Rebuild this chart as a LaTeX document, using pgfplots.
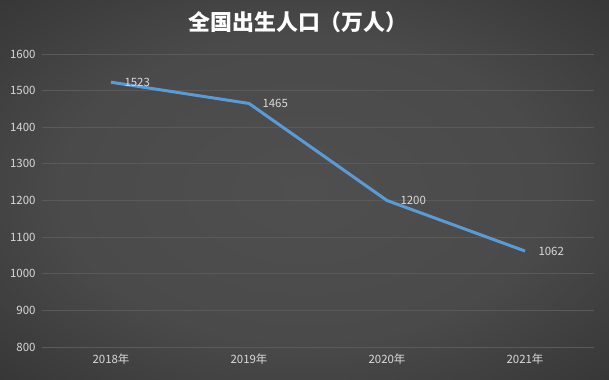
\documentclass[border=0pt]{standalone}
\usepackage{fontspec}
\setmainfont{Noto Sans CJK SC}
\usepackage{pgfplots}
\pgfplotsset{compat=1.18}
\definecolor{bgin}{HTML}{4F4F4F}
\definecolor{bgout}{HTML}{252525}
\definecolor{gridc}{HTML}{5A5A5A}
\definecolor{lbl}{HTML}{D9D9D9}
\definecolor{linec}{HTML}{5B9BD5}
\pgfdeclareradialshading{bgshade}{\pgfpoint{0bp}{0bp}}{color(0bp)=(bgin); color(20bp)=(bgin!88!bgout); color(50bp)=(bgout); color(72bp)=(bgout)}
\begin{document}
\begin{tikzpicture}[x=1bp,y=1bp]
\shade[shading=bgshade] (0,0) rectangle (609,379);
\begin{axis}[at={(42bp,32bp)}, anchor=south west, scale only axis,
  width=552bp, height=293bp,
  xmin=-0.5, xmax=3.5, ymin=800, ymax=1600,
  ytick={800,900,...,1600}, xtick={0,1,2,3},
  xticklabels={2018年,2019年,2020年,2021年},
  axis line style={draw=none}, major tick length=0pt,
  ymajorgrids, grid style={gridc, line width=0.8bp},
  tick label style={font=\fontsize{11.5}{13}\selectfont, text=lbl},
  /pgf/number format/assume math mode=true,
  /pgf/number format/1000 sep={},
  yticklabel style={xshift=-3bp},
  xticklabel style={yshift=-3bp},
  nodes near coords,
  nodes near coords style={anchor=west, xshift=12bp, font=\fontsize{11.5}{13}\selectfont, text=lbl, inner sep=0pt},
  clip=false
]
\addplot[linec, line width=3bp, mark=none] coordinates {(0,1523)(1,1465)(2,1200)(3,1062)};
\end{axis}
\node[text=white, font=\fontsize{22}{26}\selectfont\bfseries] at (298,357) {全国出生人口（万人）};
\pgfresetboundingbox
\path[use as bounding box] (0,0) rectangle (609,379);
\end{tikzpicture}
\end{document}
